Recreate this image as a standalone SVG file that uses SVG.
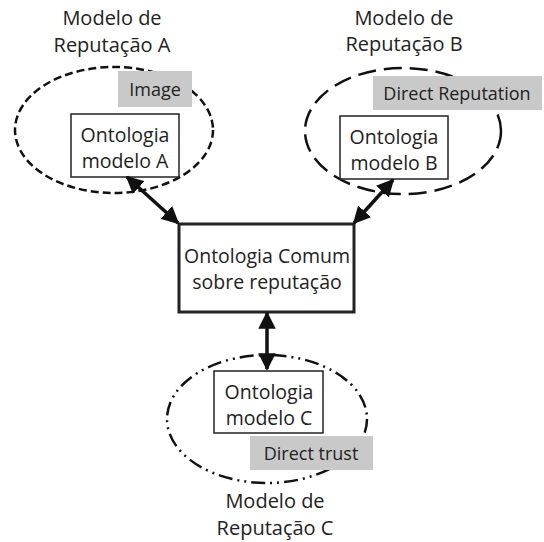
<svg xmlns="http://www.w3.org/2000/svg" width="544" height="542" viewBox="0 0 544 542">
<style>
text{font-family:"Open Sans","Liberation Sans",sans-serif;font-size:19.5px;fill:#222;text-anchor:middle}
.lbl{font-size:20px}
.tg{font-size:18px}
.box{fill:#fff;stroke:#222;stroke-width:1.5}
.main{fill:#fff;stroke:#222;stroke-width:3}
.tag{fill:#c9c9c9;stroke:none}
.ell{fill:none;stroke:#111;stroke-width:2.5}
.conn{stroke:#111;stroke-width:3.5;fill:none;marker-start:url(#ah);marker-end:url(#ah)}
</style>
<defs>
<marker id="ah" viewBox="0 0 10 10" refX="9" refY="5" markerWidth="5" markerHeight="5" orient="auto-start-reverse" markerUnits="strokeWidth">
<path d="M0,0 L10,5 L0,10 z" fill="#111"/>
</marker>
</defs>
<g id="modelA">
<text class="lbl" x="112" y="25">Modelo de</text>
<text class="lbl" x="112" y="52">Reputação A</text>
<ellipse class="ell" cx="114" cy="130" rx="99" ry="63" stroke-dasharray="8 4"/>
<rect class="tag" x="118" y="71" width="74" height="36"/>
<text class="tg" x="155" y="96">Image</text>
<rect class="box" x="71" y="114" width="108" height="63"/>
<text x="125" y="142">Ontologia</text>
<text x="125" y="168">modelo A</text>
</g>
<g id="modelB">
<text class="lbl" x="404" y="25">Modelo de</text>
<text class="lbl" x="404" y="51">Reputação B</text>
<ellipse class="ell" cx="403" cy="131" rx="98" ry="63" stroke-dasharray="18 8"/>
<rect class="tag" x="373" y="76" width="169" height="34"/>
<text class="tg" x="457" y="100">Direct Reputation</text>
<rect class="box" x="340" y="116" width="108" height="63"/>
<text x="394" y="144">Ontologia</text>
<text x="394" y="170">modelo B</text>
</g>
<g id="common">
<rect class="main" x="179" y="224" width="175" height="88"/>
<text x="267" y="263">Ontologia Comum</text>
<text x="267" y="289">sobre reputação</text>
</g>
<g id="modelC">
<ellipse class="ell" cx="267" cy="419" rx="100" ry="64" stroke-dasharray="14 5 2 5 2 5"/>
<rect class="box" x="214" y="371" width="109" height="62"/>
<text x="269" y="399">Ontologia</text>
<text x="269" y="425">modelo C</text>
<rect class="tag" x="250" y="436" width="123" height="34"/>
<text class="tg" x="311" y="460">Direct trust</text>
<text class="lbl" x="275" y="508">Modelo de</text>
<text class="lbl" x="275" y="535">Reputação C</text>
</g>
<g id="connectors">
<line class="conn" x1="127" y1="177" x2="178" y2="223"/>
<line class="conn" x1="393" y1="180" x2="354" y2="223"/>
<line class="conn" x1="267" y1="313" x2="267" y2="369"/>
</g>
</svg>
